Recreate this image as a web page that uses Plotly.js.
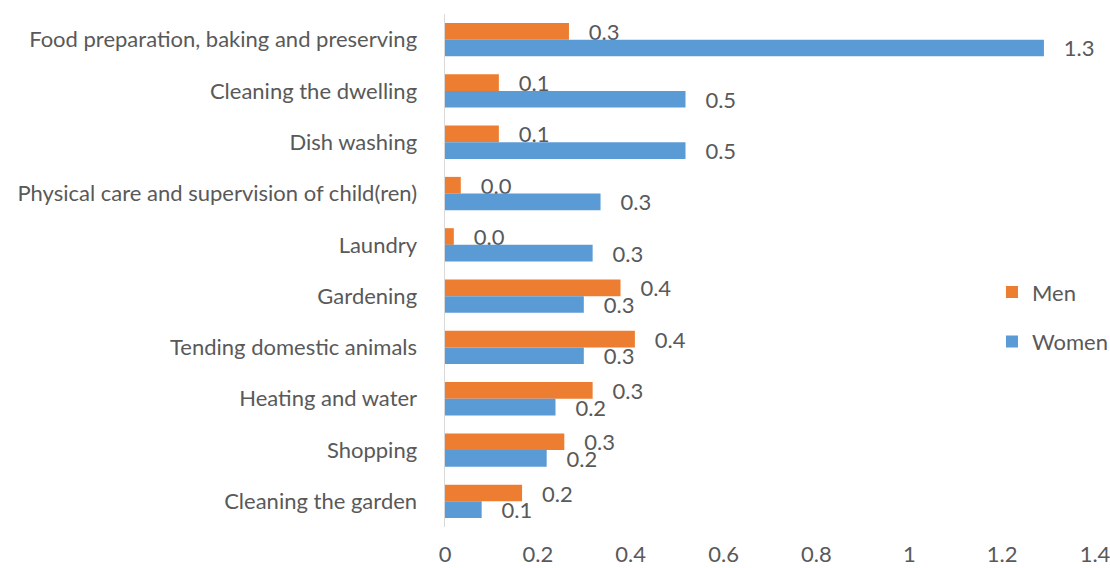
<!DOCTYPE html>
<html>
<head>
<meta charset="utf-8">
<script src="https://cdn.plot.ly/plotly-3.0.1.min.js"></script>
<style>html,body{margin:0;padding:0;background:#fff;}#chart{width:1110px;height:568px;}</style>
</head>
<body>
<div id="chart"></div>
<script>
var categories = [
  "Food preparation, baking and preserving",
  "Cleaning the dwelling",
  "Dish washing",
  "Physical care and supervision of child(ren)",
  "Laundry",
  "Gardening",
  "Tending domestic animals",
  "Heating and water",
  "Shopping",
  "Cleaning the garden"
];
var menValues   = [0.267, 0.116, 0.116, 0.034, 0.019, 0.378, 0.409, 0.318, 0.257, 0.166];
var womenValues = [1.290, 0.518, 0.518, 0.335, 0.318, 0.299, 0.299, 0.238, 0.219, 0.079];
var xTicks = [0, 0.2, 0.4, 0.6, 0.8, 1, 1.2, 1.4];

var labelFont = {family: "Lato, Open Sans, sans-serif", size: 22, color: "#595959"};
var pad = "\u00a0\u00a0\u00a0";

var men = {
  type: "bar", orientation: "h", name: "Men",
  y: categories, x: menValues,
  marker: {color: "#ED7D31"},
  text: menValues, texttemplate: pad + "%{x:.1f}", textposition: "outside",
  textfont: labelFont, constraintext: "none", cliponaxis: false,
  legendgroup: "m", hoverinfo: "x+y"
};
var women = {
  type: "bar", orientation: "h", name: "Women",
  y: categories, x: womenValues,
  marker: {color: "#5B9BD5"},
  text: womenValues, texttemplate: pad + "%{x:.1f}", textposition: "outside",
  textfont: labelFont, constraintext: "none", cliponaxis: false,
  legendgroup: "w", hoverinfo: "x+y"
};

var layout = {
  width: 1110, height: 568,
  margin: {l: 445, r: 15, t: 14, b: 41, autoexpand: false},
  paper_bgcolor: "#fff", plot_bgcolor: "#fff",
  font: labelFont,
  barmode: "group", bargap: 0.35, bargroupgap: 0,
  showlegend: true,
  legend: {x: 0.8415, y: 0.409, xanchor: "left", yanchor: "middle",
           traceorder: "grouped", tracegroupgap: 18, font: labelFont, bgcolor: "rgba(0,0,0,0)"},
  xaxis: {range: [0, 1.4], tickvals: xTicks, ticktext: xTicks.map(String),
          showgrid: false, zeroline: false, showline: false, ticklabeloverflow: "allow",
          tickfont: labelFont, ticklabelstandoff: 12, fixedrange: true},
  yaxis: {autorange: "reversed", type: "category", showgrid: false, zeroline: false,
          showline: true, linecolor: "#d9d9d9", linewidth: 1.5,
          tickfont: labelFont, ticklabelstandoff: 22, fixedrange: true}
};

Plotly.newPlot("chart", [men, women], layout, {displayModeBar: false, staticPlot: true});
</script>
</body>
</html>
